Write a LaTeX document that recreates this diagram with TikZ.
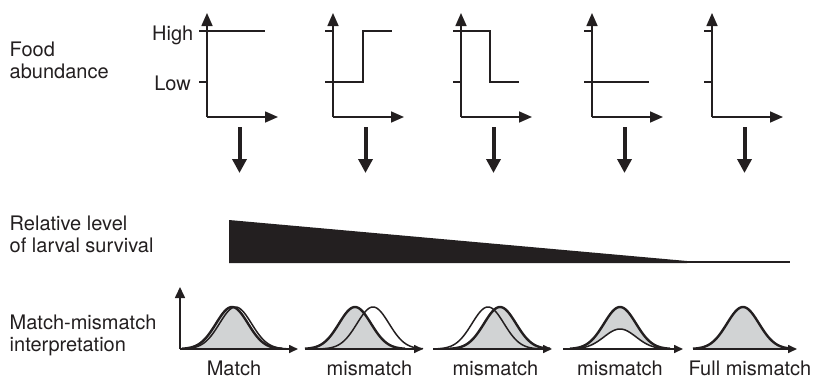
\documentclass[tikz,border=0pt]{standalone}
\usepackage{fontspec}
\setmainfont{TeX Gyre Heros}
\usetikzlibrary{arrows.meta}
\definecolor{ink}{RGB}{35,31,32}
\definecolor{fillg}{RGB}{209,211,212}
\begin{document}
\begin{tikzpicture}[x=1pt,y=-1pt,
  lbl/.style={inner sep=0pt, font=\fontsize{20}{22}\selectfont, text=ink},
  axis/.style={line width=1.6pt, draw=ink},
  bigaxis/.style={axis, -{Triangle[length=13pt,width=11pt]}},
  dataline/.style={line width=1.8pt, draw=ink},
  downarrow/.style={line width=4pt, draw=ink, -{Triangle[length=14pt,width=14pt]}},
  vaxis/.style={axis, -{Triangle[length=11pt,width=10pt]}},
  haxis/.style={axis, -{Triangle[length=9pt,width=8pt]}},
  bold/.style={line width=2.4pt, draw=ink},
  thin/.style={line width=1.5pt, draw=ink},
  gauss/.style n args={4}{insert path={plot[domain=#3:#4,samples=81,smooth] (\x,{349-#2*exp(((\x-#1)^2)/(-512))})}}
]
\useasboundingbox (0,0) rectangle (813,378);

% ---- left labels ----
\node[lbl, anchor=base west] (food1) at (9.5,56) {Food};
\node[lbl, anchor=base west] (food2) at (9.5,78) {abundance};
\node[lbl, anchor=base east] (high) at (193.5,40.5) {High};
\node[lbl, anchor=base east] (low) at (191,90) {Low};
\node[lbl, anchor=base west] (rel1) at (9.5,230) {Relative level};
\node[lbl, anchor=base west] (rel2) at (9.5,252) {of larval survival};
\node[lbl, anchor=base west] (mm1) at (9.5,329.5) {Match-mismatch};
\node[lbl, anchor=base west] (mm2) at (9.5,351.5) {interpretation};

% ---- top plots: axes and ticks ----
\foreach \ax/\n in {207/1,333/2,461/3,592/4,712/5}{
  \coordinate (o\n) at (\ax,117);
  \coordinate (yt\n) at (\ax,13);
  \coordinate (xt\n) at (\ax+71,117);
  \draw[bigaxis] (o\n) -- (yt\n);
  \draw[bigaxis] (o\n) -- (xt\n);
  \draw[axis] (\ax-8,31) -- (\ax,31);
  \draw[axis] (\ax-8,82) -- (\ax,82);
  \coordinate (ds\n) at (\ax+32.5,127);
  \coordinate (de\n) at (\ax+32.5,173);
  \draw[downarrow] (ds\n) -- (de\n);
}
% data lines
\draw[dataline] (199,31) -- (265,31);
\draw[dataline] (326,82) -- (363,82) -- (363,31) -- (392,31);
\draw[dataline] (453,31) -- (490,31) -- (490,82) -- (519,82);
\draw[dataline] (585,82) -- (649,82);

% ---- survival wedge ----
\fill[ink] (229,220) -- (687,261) -- (687,263.2) -- (229,263.2) -- cycle;
\draw[ink, line width=1.3pt] (687,262) -- (790,262);

% ---- bottom panels ----
% panel 1
\fill[fillg] [gauss={232}{42}{182}{282}] -- cycle;
\draw[thin] [gauss={235.5}{42}{185}{286}];
\draw[bold] [gauss={232}{42}{182}{282}];
\draw[vaxis] (180,349) -- (180,287);
\draw[haxis] (180,349) -- (298,349);
% panel 2
\fill[fillg] [gauss={355}{42}{305}{405}] -- cycle;
\draw[thin] [gauss={373}{42}{323}{423}];
\draw[bold] [gauss={355}{42}{305}{405}];
\draw[haxis] (305,349) -- (423,349);
% panel 3
\fill[fillg] [gauss={500}{42}{450}{550}] -- cycle;
\draw[thin] [gauss={488}{42}{438}{538}];
\draw[bold] [gauss={500}{42}{450}{550}];
\draw[haxis] (433,349) -- (552,349);
% panel 4
\fill[fillg] [gauss={620}{42}{570}{670}] -- cycle;
\fill[white] [gauss={620}{20}{570}{670}] -- cycle;
\draw[thin] [gauss={620}{20}{570}{670}];
\draw[bold] [gauss={620}{42}{570}{670}];
\draw[haxis] (563,349) -- (683,349);
% panel 5
\fill[fillg] [gauss={743}{42}{693}{793}] -- cycle;
\draw[bold] [gauss={743}{42}{693}{793}];
\draw[haxis] (693,349) -- (797,349);

% bottom labels
\node[lbl, anchor=base] (l1) at (234,375) {Match};
\node[lbl, anchor=base] (l2) at (369.5,375) {mismatch};
\node[lbl, anchor=base] (l3) at (495.5,375) {mismatch};
\node[lbl, anchor=base] (l4) at (620,375) {mismatch};
\node[lbl, anchor=base] (l5) at (750,375) {Full mismatch};
\end{tikzpicture}
\end{document}
